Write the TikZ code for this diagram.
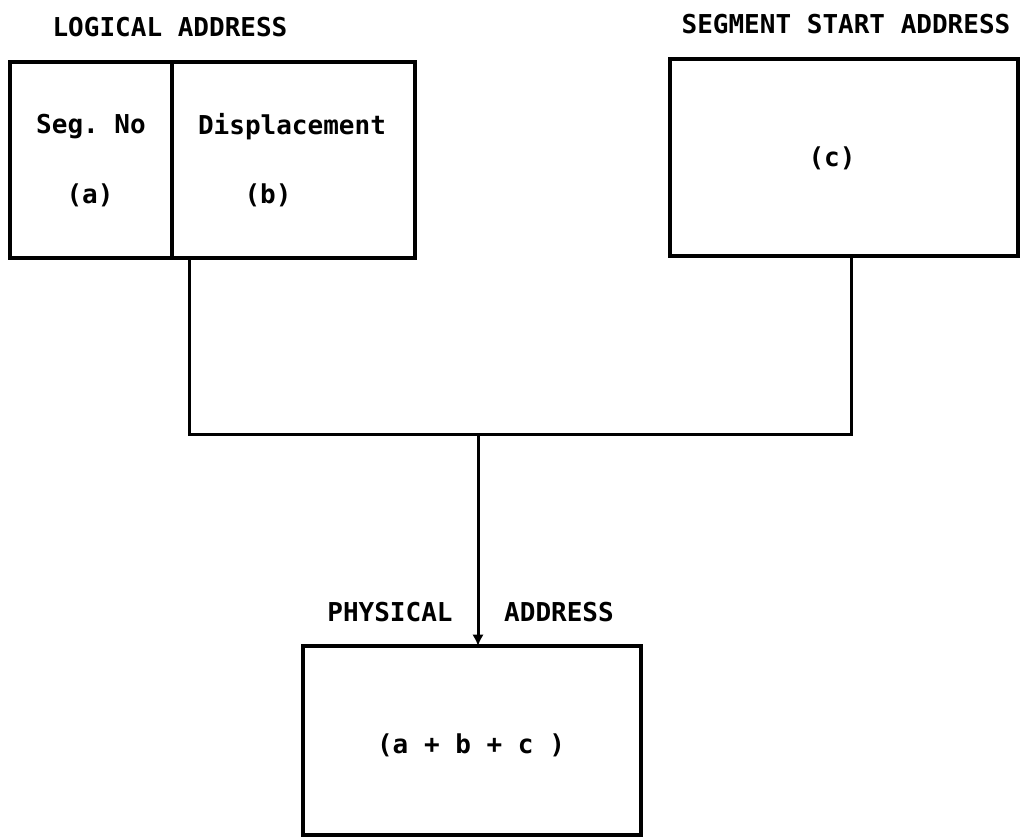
\documentclass[tikz,border=0pt]{standalone}
\usepackage{fontspec}
\setmonofont{DejaVu Sans Mono}
\usetikzlibrary{arrows.meta}
\tikzset{
  box/.style={draw, rectangle, line width=0.07cm, inner sep=0pt, outer sep=0pt},
  txt/.style={font=\fontsize{14.8pt}{16pt}\selectfont\ttfamily\bfseries, inner sep=0pt}
}
\begin{document}
\begin{tikzpicture}[x=0.02cm, y=-0.02cm, >={Latex[length=6.5pt,width=6.5pt]}]
\useasboundingbox (0,0) rectangle (1021,839);
\node[box, minimum width=3.24cm, minimum height=3.92cm] (segno) at (91,160) {};
\node[box, minimum width=4.86cm, minimum height=3.92cm] (disp) at (293.5,160) {};
\node[box, minimum width=6.96cm, minimum height=3.94cm] (segstart) at (844,157.5) {};
\node[box, minimum width=6.76cm, minimum height=3.78cm] (phys) at (472,740.5) {};
% labels
\node[txt] (logical) at (170,27.5) {LOGICAL ADDRESS};
\node[txt] (startlbl) at (846,24) {SEGMENT START ADDRESS};
\node[txt] (segnotxt) at (91,127) {Seg. No};
\node[txt] (atxt) at (90,195) {(a)};
\node[txt] (disptxt) at (292,127) {Displacement};
\node[txt] (btxt) at (268,195) {(b)};
\node[txt] (ctxt) at (832,158) {(c)};
\node[txt] (physlbl) at (390,612) {PHYSICAL};
\node[txt] (addrlbl) at (559,612) {ADDRESS};
\node[txt] (sumtxt) at (471,745) {(a + b + c )};
% connectors
\coordinate (jl) at (189,434);
\coordinate (jr) at (851,434);
\coordinate (jm) at (478,434);
\draw[line width=0.06cm] (disp.south -| jl) -- (jl) -- (jr) -- (segstart.south -| jr);
\draw[line width=0.06cm, ->] (jm) -- (phys.north -| jm);
\end{tikzpicture}
\end{document}
